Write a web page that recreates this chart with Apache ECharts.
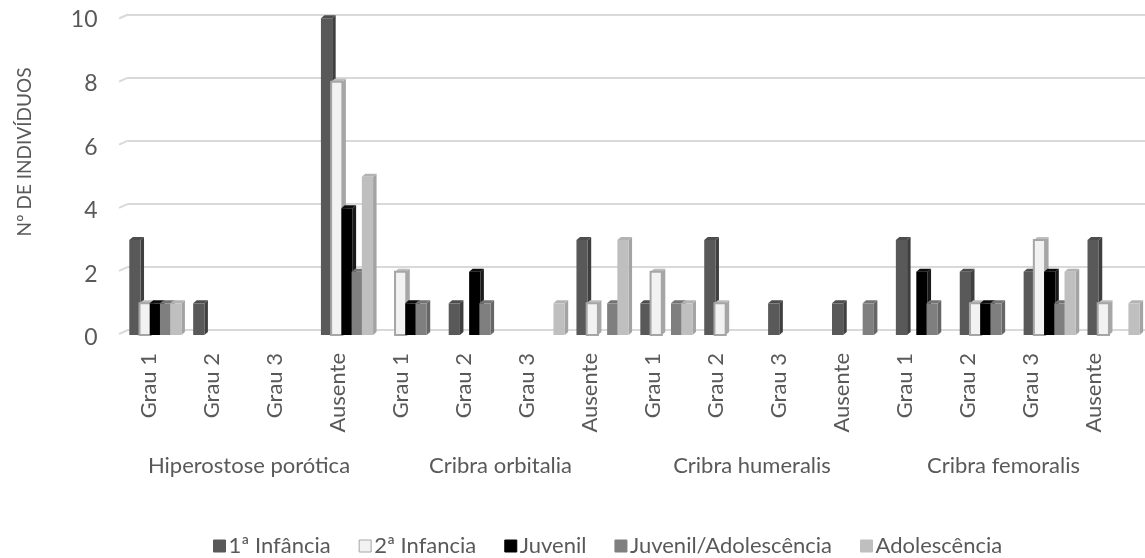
<!DOCTYPE html>
<html>
<head>
<meta charset="utf-8">
<script src="https://cdn.jsdelivr.net/npm/echarts@6/dist/echarts.min.js"></script>
<style>
  html, body { margin: 0; padding: 0; background: #fff; }
  #chart { width: 1145px; height: 558px; }
</style>
</head>
<body>
<div id="chart"></div>
<script>
// Lesion groups and grades (two-level category axis)
const groups = ['Hiperostose porótica', 'Cribra orbitalia', 'Cribra humeralis', 'Cribra femoralis'];
const grades = ['Grau 1', 'Grau 2', 'Grau 3', 'Ausente'];

// Age classes
const seriesNames = ['1ª Infância', '2ª Infancia', 'Juvenil', 'Juvenil/Adolescência', 'Adolescência'];

// Number of individuals per grade (4 grades x 4 groups)
const infancia1   = [3, 1, 0, 10,  0, 1, 0, 3,  1, 3, 1, 1,  3, 2, 2, 3];
const infancia2   = [1, 0, 0, 8,   2, 0, 0, 1,  2, 1, 0, 0,  0, 1, 3, 1];
const juvenil     = [1, 0, 0, 4,   1, 2, 0, 0,  0, 0, 0, 0,  2, 1, 2, 0];
const juvenilAdol = [1, 0, 0, 2,   1, 1, 0, 1,  1, 0, 0, 1,  1, 1, 1, 0];
const adolescencia= [1, 0, 0, 5,   0, 0, 1, 3,  1, 0, 0, 0,  0, 0, 2, 1];

// Y axis ticks
const yTicks = [0, 2, 4, 6, 8, 10];

const seriesValues = [infancia1, infancia2, juvenil, juvenilAdol, adolescencia];

const categories = [];
groups.forEach(() => grades.forEach(g => categories.push(g)));

// front / side / top shades of each column
const shades = [
  { front: '#595959', side: '#3f3f3f', top: '#4d4d4d', border: null },
  { front: '#f2f2f2', side: '#a6a6a6', top: '#bdbdbd', border: '#a6a6a6' },
  { front: '#000000', side: '#1a1a1a', top: '#0d0d0d', border: null },
  { front: '#7f7f7f', side: '#666666', top: '#737373', border: null },
  { front: '#bfbfbf', side: '#a3a3a3', top: '#b3b3b3', border: null }
];

const FONT = 'Lato, "Open Sans", sans-serif';
const TXT = '#595959';

function columnRenderer(sIdx) {
  return function (params, api) {
    const v = api.value(1);
    if (!v) return null;
    const base = api.coord([api.value(0), 0]);
    const top = api.coord([api.value(0), v]);
    const catW = api.size([1, 0])[0];
    const slot = catW / 6.25;
    const w = slot * 1.1;
    const dx = 3.5, dy = 3;
    const x0 = base[0] - 2.5 * slot + sIdx * slot;
    const yb = base[1], yt = top[1];
    const sh = shades[sIdx];
    const children = [
      { type: 'polygon', shape: { points: [[x0 + w, yt], [x0 + w + dx, yt - dy], [x0 + w + dx, yb - dy], [x0 + w, yb]] },
        style: { fill: sh.side } },
      { type: 'polygon', shape: { points: [[x0, yt], [x0 + dx, yt - dy], [x0 + w + dx, yt - dy], [x0 + w, yt]] },
        style: { fill: sh.top } },
      { type: 'rect', shape: { x: x0, y: yt, width: w, height: yb - yt },
        style: sh.border ? { fill: sh.front, stroke: sh.border, lineWidth: 2 } : { fill: sh.front } }
    ];
    return { type: 'group', children: children };
  };
}

const series = seriesValues.map((vals, s) => ({
  name: seriesNames[s],
  type: 'custom',
  xAxisIndex: 0,
  yAxisIndex: 0,
  z: 3 + s,
  itemStyle: { color: shades[s].front, borderColor: shades[s].border || shades[s].front },
  renderItem: columnRenderer(s),
  encode: { x: 0, y: 1 },
  data: vals.map((v, i) => [i, v])
}));

// short slanted edges of the side wall at each gridline
series.push({
  type: 'custom',
  xAxisIndex: 1,
  yAxisIndex: 1,
  silent: true,
  z: 1,
  renderItem: function (params, api) {
    const p = api.coord([0, api.value(0)]);
    const x = params.coordSys.x;
    return { type: 'line', shape: { x1: x - 9, y1: p[1] + 4, x2: x, y2: p[1] },
      style: { stroke: '#d9d9d9', lineWidth: 2 } };
  },
  data: yTicks.map(t => [t])
});

const chart = echarts.init(document.getElementById('chart'));
chart.setOption({
  animation: false,
  backgroundColor: '#ffffff',
  textStyle: { fontFamily: FONT },
  graphic: [{
    type: 'text',
    x: 25, y: 152,
    rotation: Math.PI / 2,
    style: {
      text: 'Nº DE INDIVÍDUOS',
      fill: TXT, font: '19px ' + FONT,
      align: 'center', verticalAlign: 'middle'
    }
  }],
  grid: [
    { left: 122.9, top: 18.3, width: 1028.3, height: 316.7 },   // columns
    { left: 128, top: 14.5, width: 1017, height: 315.5 },       // back wall
    { left: 117.5, top: 20, width: 1008, height: 318 },         // grade labels + y labels
    { left: 123.25, top: 20, width: 1006, height: 318 }         // group labels
  ],
  xAxis: [
    { type: 'category', gridIndex: 0, data: categories, show: false },
    { type: 'value', gridIndex: 1, min: 0, max: 1, show: false },
    { type: 'category', gridIndex: 2, data: categories,
      axisLine: { show: false }, axisTick: { show: false },
      axisLabel: { rotate: 90, margin: 15, fontSize: 22, color: TXT, fontFamily: FONT, interval: 0 } },
    { type: 'category', gridIndex: 3, data: groups,
      axisLine: { show: false }, axisTick: { show: false },
      axisLabel: { margin: 117, fontSize: 22, color: TXT, fontFamily: FONT, interval: 0 } }
  ],
  yAxis: [
    { type: 'value', gridIndex: 0, min: 0, max: 10, show: false },
    { type: 'value', gridIndex: 1, min: 0, max: 10, interval: 2,
      axisLine: { show: false }, axisTick: { show: false }, axisLabel: { show: false },
      splitLine: { show: true, lineStyle: { color: '#d9d9d9', width: 2 } } },
    { type: 'value', gridIndex: 2, min: 0, max: 10, interval: 2,
      axisLine: { show: false }, axisTick: { show: false }, splitLine: { show: false },
      axisLabel: { margin: 20, fontSize: 23, color: TXT, fontFamily: FONT } },
    { type: 'value', gridIndex: 3, min: 0, max: 10, show: false }
  ],
  legend: {
    top: 533,
    left: 211,
    padding: 2,
    itemWidth: 12,
    itemHeight: 12,
    itemGap: 28,
    icon: 'rect',
    textStyle: { fontSize: 22, color: TXT, fontFamily: FONT, padding: [0, 0, 0, -2] },
    data: seriesNames.map((n, s) => ({
      name: n,
      itemStyle: { color: shades[s].front, borderColor: shades[s].border || shades[s].front, borderWidth: 1 }
    }))
  },
  series: series
});
</script>
</body>
</html>
